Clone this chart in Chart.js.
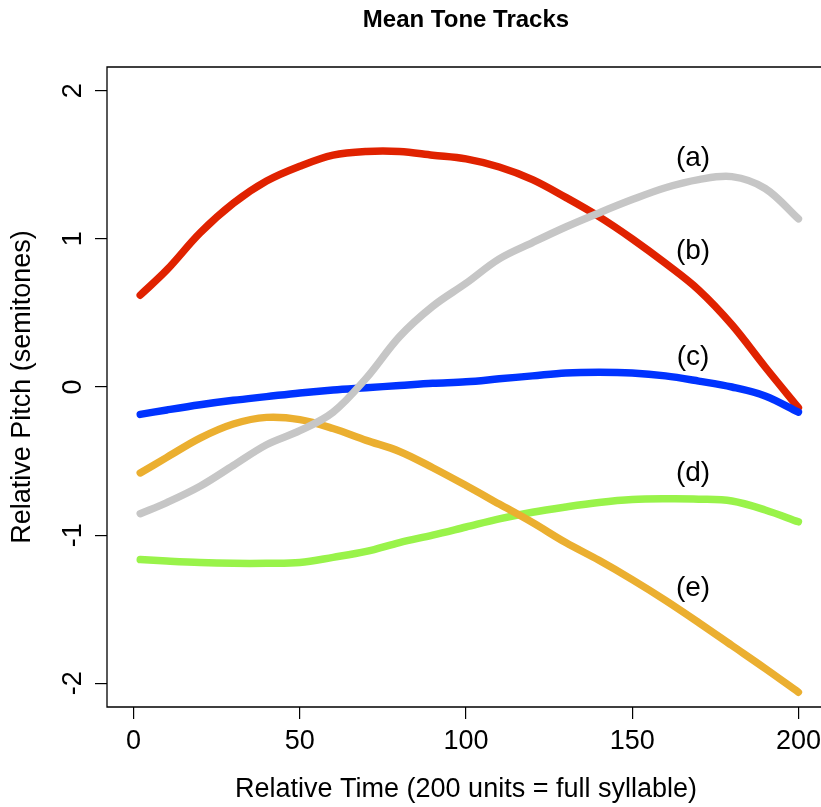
<!DOCTYPE html>
<html>
<head>
<meta charset="utf-8">
<script src="https://cdn.jsdelivr.net/npm/chart.js@4.4.1/dist/chart.umd.min.js"></script>
<style>
  html, body { margin: 0; padding: 0; background: #fff; overflow: hidden; }
  #wrap { width: 821px; height: 807px; overflow: hidden; }
</style>
</head>
<body>
<div id="wrap"><canvas id="chart" width="830" height="807"></canvas></div>
<script>
// relative time (200 units = full syllable)
const times = [2, 10, 20, 30, 40, 50, 60, 70, 80, 90, 100, 110, 120, 130, 140, 150, 160, 170, 180, 190, 200];

// mean pitch tracks, semitones
const toneA = [-0.855, -0.78, -0.67, -0.53, -0.39, -0.295, -0.17, 0.06, 0.34, 0.545, 0.70, 0.865, 0.975, 1.08, 1.175, 1.265, 1.345, 1.40, 1.42, 1.34, 1.135];
const toneB = [0.62, 0.79, 1.04, 1.24, 1.39, 1.49, 1.565, 1.59, 1.59, 1.565, 1.54, 1.485, 1.40, 1.28, 1.15, 1.0, 0.835, 0.655, 0.42, 0.135, -0.14];
const toneC = [-0.185, -0.155, -0.12, -0.09, -0.065, -0.04, -0.02, -0.005, 0.01, 0.025, 0.035, 0.055, 0.075, 0.095, 0.10, 0.095, 0.075, 0.04, 0.0, -0.06, -0.17];
const toneD = [-1.165, -1.175, -1.185, -1.19, -1.19, -1.185, -1.15, -1.11, -1.05, -1.0, -0.945, -0.89, -0.845, -0.81, -0.78, -0.76, -0.755, -0.757, -0.77, -0.83, -0.91];
const toneE = [-0.58, -0.475, -0.345, -0.25, -0.205, -0.22, -0.28, -0.36, -0.435, -0.545, -0.665, -0.79, -0.915, -1.05, -1.17, -1.30, -1.44, -1.59, -1.745, -1.90, -2.06];

const curveNames = ['(a)', '(b)', '(c)', '(d)', '(e)'];
const xTicks = [0, 50, 100, 150, 200];
const yTicks = [-2, -1, 0, 1, 2];

const FONT = '"Liberation Sans", Arial, Helvetica, sans-serif';

const pts = vals => vals.map((v, i) => ({x: times[i], y: v}));

const track = (label, vals, color, order) => ({
  label,
  data: pts(vals),
  borderColor: color,
  borderWidth: 7.5,
  borderCapStyle: 'round',
  borderJoinStyle: 'round',
  pointRadius: 0,
  tension: 0.35,
  order
});

// where the (a)..(e) tags sit, in data units
const tagX = 168.3;
const tagY = [1.545, 0.915, 0.2, -0.58, -1.36];

const decor = {
  id: 'decor',
  afterDraw(chart) {
    const {ctx, chartArea: a, scales: {x, y}} = chart;
    ctx.save();

    // box (right side runs off the page, like the original)
    ctx.strokeStyle = '#000';
    ctx.lineWidth = 1.3;
    ctx.beginPath();
    ctx.moveTo(a.right, a.top);
    ctx.lineTo(a.left, a.top);
    ctx.lineTo(a.left, a.bottom);
    ctx.lineTo(a.right, a.bottom);
    ctx.stroke();

    ctx.fillStyle = '#000';
    ctx.textAlign = 'center';
    ctx.textBaseline = 'middle';

    // title
    ctx.font = 'bold 24px ' + FONT;
    ctx.fillText('Mean Tone Tracks', (a.left + a.right) / 2, 20);

    // x title
    ctx.font = '27px ' + FONT;
    ctx.fillText('Relative Time (200 units = full syllable)', (a.left + a.right) / 2, 790);

    // y tick labels, rotated like R
    yTicks.forEach(v => {
      ctx.save();
      ctx.translate(74, y.getPixelForValue(v));
      ctx.rotate(-Math.PI / 2);
      ctx.fillText(String(v), 0, 0);
      ctx.restore();
    });

    // y title
    ctx.save();
    ctx.translate(23, (a.top + a.bottom) / 2);
    ctx.rotate(-Math.PI / 2);
    ctx.fillText('Relative Pitch (semitones)', 0, 0);
    ctx.restore();

    // curve tags
    ctx.font = '28px ' + FONT;
    curveNames.forEach((n, i) => {
      ctx.fillText(n, x.getPixelForValue(tagX), y.getPixelForValue(tagY[i]));
    });

    ctx.restore();
  }
};

new Chart(document.getElementById('chart'), {
  type: 'line',
  data: {
    datasets: [
      track('a', toneA, '#C6C6C6', 1),
      track('e', toneE, '#EBAF30', 2),
      track('d', toneD, '#99F34A', 3),
      track('c', toneC, '#0033FF', 4),
      track('b', toneB, '#E02200', 5)
    ]
  },
  options: {
    responsive: false,
    animation: false,
    devicePixelRatio: 1,
    layout: { padding: { top: 67, right: 5, left: 0, bottom: 0 } },
    plugins: { legend: { display: false }, tooltip: { enabled: false } },
    scales: {
      x: {
        type: 'linear',
        min: -8,
        max: 208,
        afterBuildTicks: s => { s.ticks = xTicks.map(v => ({value: v})); },
        afterFit: s => { s.height = 100; },
        border: { display: false },
        grid: { drawOnChartArea: false, drawTicks: true, tickLength: 12, color: '#000', lineWidth: 1.2 },
        ticks: { color: '#000', font: { family: FONT, size: 27 }, padding: 6, maxRotation: 0 }
      },
      y: {
        type: 'linear',
        min: -2.16,
        max: 2.16,
        afterBuildTicks: s => { s.ticks = yTicks.map(v => ({value: v})); },
        afterFit: s => { s.width = 107; },
        border: { display: false },
        grid: { drawOnChartArea: false, drawTicks: true, tickLength: 12, color: '#000', lineWidth: 1.2 },
        ticks: { display: false }
      }
    }
  },
  plugins: [decor]
});
</script>
</body>
</html>
